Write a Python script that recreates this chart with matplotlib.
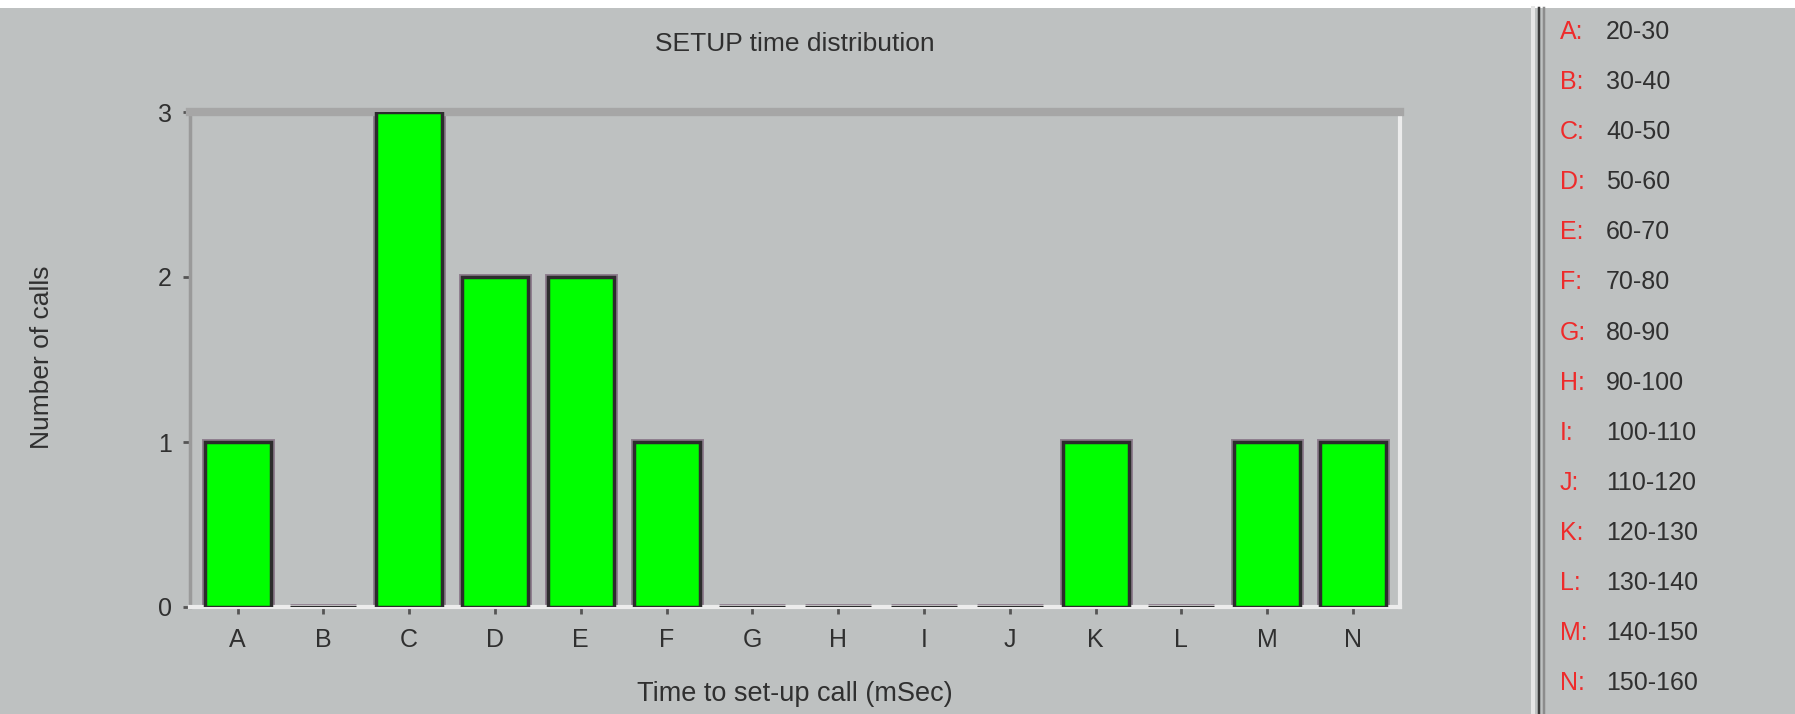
import matplotlib
matplotlib.use("Agg")
import matplotlib.pyplot as plt
from matplotlib.lines import Line2D
from matplotlib.patches import Rectangle

# data
categories = ["A", "B", "C", "D", "E", "F", "G", "H", "I", "J", "K", "L", "M", "N"]
counts = [1, 0, 3, 2, 2, 1, 0, 0, 0, 0, 1, 0, 1, 1]
ranges = ["20-30", "30-40", "40-50", "50-60", "60-70", "70-80", "80-90",
          "90-100", "100-110", "110-120", "120-130", "130-140", "140-150", "150-160"]
yticks = [0, 1, 2, 3]

BG = "#bec1c1"
TXT = "#303030"
W, H = 1795, 714

plt.rcParams['font.family'] = ['Liberation Sans', 'DejaVu Sans']

fig = plt.figure(figsize=(W / 100, H / 100), dpi=100)
fig.patch.set_facecolor(BG)

# white strip along the top edge
fig.patches.append(Rectangle((0, 1 - 8 / H), 1, 8 / H, transform=fig.transFigure,
                             facecolor="white", edgecolor="none", zorder=0))

ax = fig.add_axes([190 / W, 1 - 607 / H, 1210 / W, 495 / H])
ax.set_facecolor(BG)

x = list(range(len(categories)))
# outer purple-ish rim, then the dark outline
ax.bar(x, counts, width=0.77, color="#00ff00", edgecolor="#8e7e8e", linewidth=5, zorder=2)
ax.bar(x, counts, width=0.77, color="#00ff00", edgecolor="#2c2c2c", linewidth=2.5, zorder=3)

ax.set_xlim(-0.554, 13.548)
ax.set_ylim(0, 3)
ax.set_xticks(x)
ax.set_xticklabels(categories)
ax.set_yticks(yticks)
ax.tick_params(axis="both", colors="#555555", labelcolor=TXT, labelsize=18,
               length=5, width=2, direction="out")
ax.tick_params(axis="x", pad=10)
ax.tick_params(axis="y", pad=8)

# 3D-ish frame
ax.spines['top'].set_color("#a6a6a6")
ax.spines['top'].set_linewidth(6)
ax.spines['left'].set_color("#9a9a9a")
ax.spines['left'].set_linewidth(2.5)
ax.spines['right'].set_color("#ececec")
ax.spines['right'].set_linewidth(3)
ax.spines['bottom'].set_color("#ececec")
ax.spines['bottom'].set_linewidth(3)

ax.set_title("SETUP time distribution", color=TXT, fontsize=19, y=1.121, va="center")
ax.set_xlabel("Time to set-up call (mSec)", color=TXT, fontsize=19.5)
ax.xaxis.set_label_coords(0.5, -0.176)
ax.xaxis.label.set_va("center")
ax.set_ylabel("Number of calls", color=TXT, fontsize=19)
ax.yaxis.set_label_coords(-0.122, 0.505)
ax.yaxis.label.set_va("center")

# separator between chart and key
for xpix, col, lw in [(1533, "#e6e6e6", 4), (1539, "#3a3a3a", 2.5), (1543.5, "#8c8c8c", 2.5)]:
    fig.add_artist(Line2D([xpix / W, xpix / W], [0, 1 - 8 / H], transform=fig.transFigure,
                          color=col, linewidth=lw * 0.72))

# key on the right
for i, (c, r) in enumerate(zip(categories, ranges)):
    ypix = 32 + i * 50.1
    fig.text(1560 / W, 1 - ypix / H, c + ":", color="#ee2b2b", fontsize=18, va="center", ha="left")
    fig.text(1606 / W, 1 - ypix / H, r, color=TXT, fontsize=18, va="center", ha="left")

fig.savefig("out.png", dpi=100, facecolor=BG)
